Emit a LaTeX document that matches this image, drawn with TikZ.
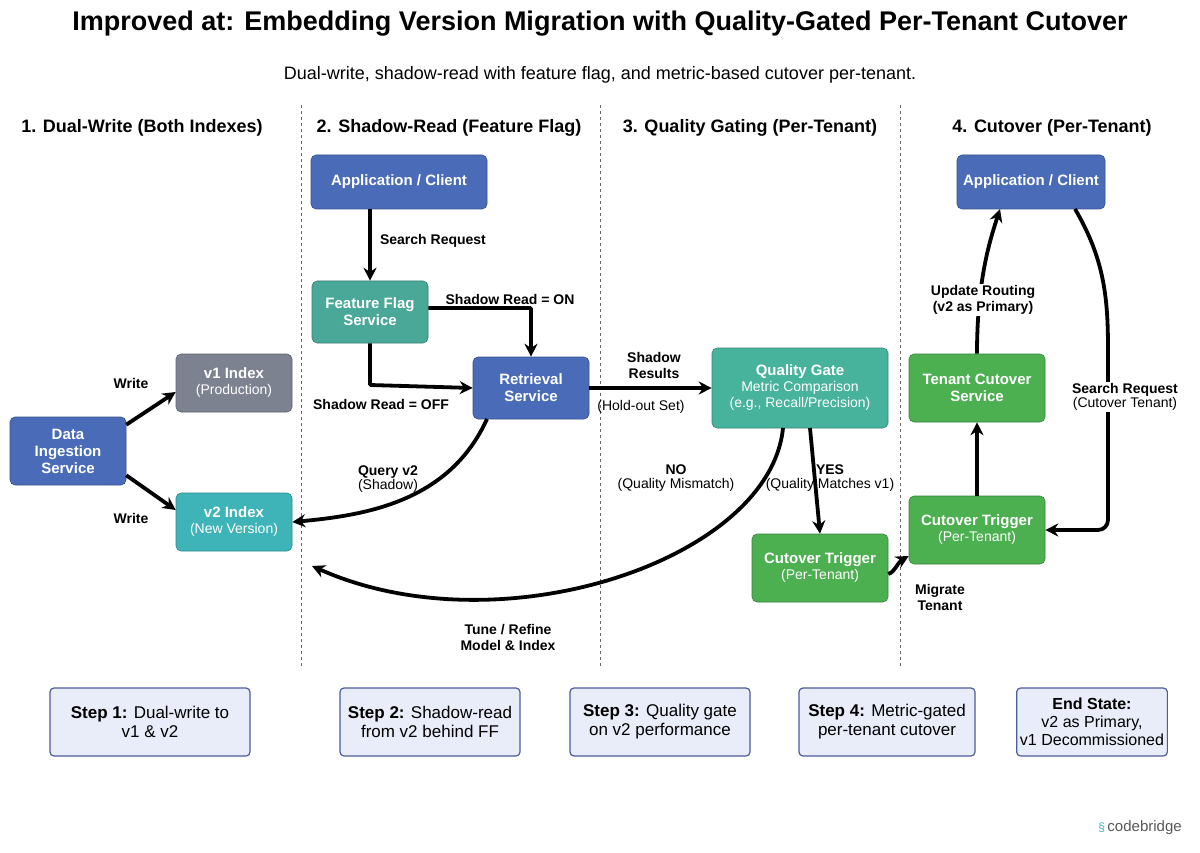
\documentclass[tikz,border=0pt]{standalone}
\usepackage{fontspec}
\setmainfont{Liberation Sans}
\usetikzlibrary{arrows.meta,positioning}
\definecolor{cblue}{HTML}{4A6CB8}
\definecolor{cgrey}{HTML}{7C8290}
\definecolor{cteal}{HTML}{3FB4B8}
\definecolor{cff}{HTML}{4AA898}
\definecolor{cqg}{HTML}{47B39C}
\definecolor{cgreen}{HTML}{4CAF50}
\definecolor{stepfill}{HTML}{E9EDF9}
\definecolor{stepdraw}{HTML}{4E5C9C}
\newcommand{\subtxt}{\fontsize{14}{16}\selectfont\mdseries}
\begin{document}
\begin{tikzpicture}[x=1pt,y=-1pt,
 box/.style={rounded corners=5pt,text=white,align=center,font=\fontsize{15}{17}\selectfont\bfseries,inner sep=2pt,draw=#1!75!black,line width=0.6pt,fill=#1},
 stepbox/.style={rounded corners=4pt,fill=stepfill,draw=stepdraw,line width=1.2pt,align=center,font=\fontsize{17}{19}\selectfont,minimum height=68pt},
 arr/.style={line width=3.8pt,-{Stealth[length=13pt,width=13pt]}},
 lab/.style={font=\fontsize{14}{16}\selectfont\bfseries,align=center},
 head/.style={font=\fontsize{18}{21}\selectfont\bfseries},
 sep/.style={dashed,line width=0.7pt,gray!80!black}]
\useasboundingbox (0,0) rectangle (1200,853);
\fill[white] (0,0) rectangle (1200,853);
\node (title) at (600,24) {\fontsize{27}{30}\selectfont\bfseries Improved at: Embedding Version Migration with Quality-Gated Per-Tenant Cutover};
\node (subt) at (600,75) {\fontsize{18}{21}\selectfont Dual-write, shadow-read with feature flag, and metric-based cutover per-tenant.};
\node[head] (h1) at (142,128) {1. Dual-Write (Both Indexes)};
\node[head] (h2) at (449,128) {2. Shadow-Read (Feature Flag)};
\node[head] (h3) at (750,128) {3. Quality Gating (Per-Tenant)};
\node[head] (h4) at (1052,128) {4. Cutover (Per-Tenant)};
\coordinate (s1a) at (301,105); \coordinate (s1b) at (301,668);
\coordinate (s2a) at (600,105); \coordinate (s2b) at (600,668);
\coordinate (s3a) at (900,105); \coordinate (s3b) at (900,668);
\draw[sep] (s1a)--(s1b); \draw[sep] (s2a)--(s2b); \draw[sep] (s3a)--(s3b);

\node[box=cblue,minimum width=116pt,minimum height=68pt] (ing) at (68,451) {Data\\Ingestion\\Service};
\node[box=cgrey,minimum width=116pt,minimum height=58pt] (v1) at (234,383) {v1 Index\\[-1pt]{\subtxt (Production)}};
\node[box=cteal,minimum width=116pt,minimum height=58pt] (v2) at (234,522) {v2 Index\\[-1pt]{\subtxt (New Version)}};
\node[box=cblue,minimum width=176pt,minimum height=54pt] (app2) at (399,182) {Application / Client};
\node[box=cff,minimum width=116pt,minimum height=62pt] (ff) at (370,312) {Feature Flag\\Service};
\node[box=cblue,minimum width=116pt,minimum height=62pt] (ret) at (531,388) {Retrieval\\Service};
\node[box=cqg,minimum width=176pt,minimum height=80pt] (qg) at (800,388) {Quality Gate\\[-1pt]{\subtxt Metric Comparison}\\[-1pt]{\subtxt (e.g., Recall/Precision)}};
\node[box=cgreen,minimum width=136pt,minimum height=68pt] (ct3) at (820,568) {Cutover Trigger\\[-1pt]{\subtxt (Per-Tenant)}};
\node[box=cblue,minimum width=148pt,minimum height=54pt] (app4) at (1031,182) {Application / Client};
\node[box=cgreen,minimum width=136pt,minimum height=68pt] (tcs) at (977,388) {Tenant Cutover\\Service};
\node[box=cgreen,minimum width=136pt,minimum height=68pt] (ct4) at (977,530) {Cutover Trigger\\[-1pt]{\subtxt (Per-Tenant)}};

\draw[arr] (ing.north east) ++(0,8) -- (v1.west|-0,392);
\draw[arr] (ing.south east) ++(0,-10) -- (v2.west|-0,510);
\node[lab] (w1) at (131,383) {Write};
\node[lab] (w2) at (131,518) {Write};
\draw[arr] (app2.south-|ff.north) -- (ff.north);
\node[lab] (sr) at (433,241) {Search Request};
\draw[arr,rounded corners=1pt] (ff.south) -- (370,385) -- (ret.west);
\node[lab] (off) at (381,404) {Shadow Read = OFF};
\draw[arr,rounded corners=1pt] (ff.east|-0,308) -- (531,308) -- (ret.north);
\node[lab] (on) at (510,299) {Shadow Read = ON};
\draw[arr] (487,419) .. controls (450,500) and (370,515) .. (v2.east);
\node[lab] (qv) at (388,479) {Query v2\\[-2pt]{\mdseries (Shadow)}};
\draw[arr] (ret.east) -- (qg.west);
\node[lab] (shr) at (654,365) {Shadow\\Results};
\node[font=\fontsize{14}{16}\selectfont] (ho) at (641,407) {(Hold-out Set)};
\draw[arr] (783,428) .. controls (770,560) and (500,650) .. (312,566);
\node[lab] (no) at (676,478) {NO\\[-2pt]{\mdseries (Quality Mismatch)}};
\node[lab] (tune) at (508,637) {Tune / Refine\\Model \& Index};
\draw[arr] (810,428) -- (ct3.north);
\node[lab] (yes) at (830,478) {YES\\[-2pt]{\mdseries (Quality Matches v1)}};
\draw[arr] (ct3.east) ++(0,6) .. controls (895,572) and (898,562) .. (ct4.west|-0,556);
\node[lab] (mig) at (940,597) {Migrate\\Tenant};
\draw[arr] (ct4.north) -- (tcs.south);
\draw[arr] (tcs.north) .. controls (977,280) and (990,240) .. (1000,209);
\node[lab,fill=white,inner sep=1pt] (upd) at (983,300) {Update Routing\\(v2 as Primary)};
\draw[arr,rounded corners=10pt] (1075,209) .. controls (1105,260) and (1108,300) .. (1108,360) -- (1108,530) -- (ct4.east);
\node[lab,fill=white,inner sep=1pt] (sreq) at (1125,397) {Search Request\\[-2pt]{\mdseries (Cutover Tenant)}};

\node[stepbox,minimum width=200pt] (st1) at (150,722) {\textbf{Step 1:} Dual-write to\\v1 \& v2};
\node[stepbox,minimum width=180pt] (st2) at (430,722) {\textbf{Step 2:} Shadow-read\\from v2 behind FF};
\node[stepbox,minimum width=180pt] (st3) at (660,722) {\textbf{Step 3:} Quality gate\\on v2 performance};
\node[stepbox,minimum width=176pt] (st4) at (887,722) {\textbf{Step 4:} Metric-gated\\per-tenant cutover};
\node[stepbox,minimum width=150pt,font=\fontsize{16}{18}\selectfont] (st5) at (1092,722) {\textbf{End State:}\\v2 as Primary,\\v1 Decommissioned};
\node[font=\fontsize{15}{17}\selectfont,text=gray!70!black] (logo) at (1140,828) {\textcolor{cteal}{\large\S}\,codebridge};
\end{tikzpicture}
\end{document}
